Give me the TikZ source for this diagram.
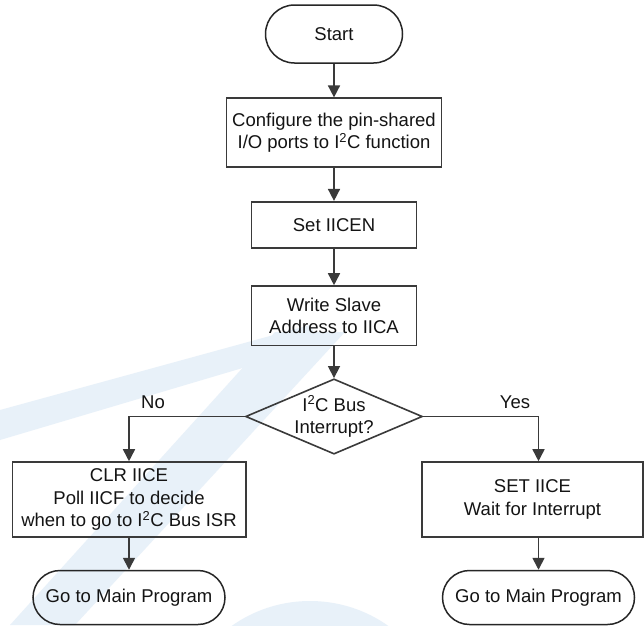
\documentclass[tikz,border=0pt]{standalone}
\usepackage{fontspec}
\setmainfont{Liberation Sans}
\usetikzlibrary{shapes.misc,shapes.geometric,arrows.meta}
\definecolor{ln}{HTML}{3A3A3A}
\definecolor{wm}{RGB}{232,241,249}
\begin{document}
\begin{tikzpicture}[x=1pt,y=-1pt,
  font=\fontsize{18.5}{22.4}\selectfont,
  box/.style={draw=ln, line width=1.6pt, rectangle, inner sep=0pt, align=center, text=black!92},
  term/.style={draw=black!85, line width=1.5pt, rounded rectangle, inner sep=0pt, align=center, text=black!92},
  dec/.style={draw=ln, line width=1.6pt, diamond, aspect=2.35, inner sep=0pt, align=center,
              minimum width=176pt, minimum height=75pt, text=black!92},
  arr/.style={draw=ln, line width=1.6pt, -{Triangle[width=12pt,length=12pt]}},
  lbl/.style={inner sep=0pt, text=black!92}]
\useasboundingbox (0,0) rectangle (644,625);
\fill[white] (0,0) rectangle (644,625);
% faint watermark
\begin{scope}
\clip (0,0) rectangle (644,625);
\fill[wm] (0,410) -- (310,325) -- (320,345) -- (0,440) -- cycle;
\fill[wm] (275,332) -- (345,332) -- (75,625) -- (10,625) -- cycle;
\fill[wm] (310,736.5) circle (135.5);
\end{scope}
% nodes
\node[term, minimum width=137pt, minimum height=58pt] (start) at (334,34) {Start};
\node[box, minimum width=215pt, minimum height=69pt] (cfg) at (334,132.7)
  {Configure the pin-shared\\I/O ports to I\textsuperscript{2}C function};
\node[box, minimum width=165pt, minimum height=46pt] (seten) at (334,224.7) {Set IICEN};
\node[box, minimum width=165pt, minimum height=59.6pt] (wr) at (334,315.8) {Write Slave\\Address to IICA};
\node[dec] (dec) at (334,416.5) {I\textsuperscript{2}C Bus\\Interrupt?};
\node[box, minimum width=233.4pt, minimum height=75pt] (clr) at (129,499.5)
  {CLR IICE\\Poll IICF to decide\\when to go to I\textsuperscript{2}C Bus ISR};
\node[box, minimum width=221pt, minimum height=75pt] (seti) at (532.5,499.5) {SET IICE\\Wait for Interrupt};
\node[term, minimum width=192pt, minimum height=54pt] (goL) at (129,597.5) {Go to Main Program};
\node[term, minimum width=192pt, minimum height=54pt] (goR) at (538.5,597.5) {Go to Main Program};
% labels
\node[lbl] (no) at (153,402) {No};
\node[lbl] (yes) at (515,402) {Yes};
% connectors
\draw[arr] (start) -- (cfg);
\draw[arr] (cfg) -- (seten);
\draw[arr] (seten) -- (wr);
\draw[arr] (wr) -- (dec);
\draw[arr] (dec.west) -| (clr.north);
\draw[arr] (dec.east) -| (seti.north -| goR.north);
\draw[arr] (clr) -- (goL);
\draw[arr] (seti.south -| goR.north) -- (goR.north);
\end{tikzpicture}
\end{document}
